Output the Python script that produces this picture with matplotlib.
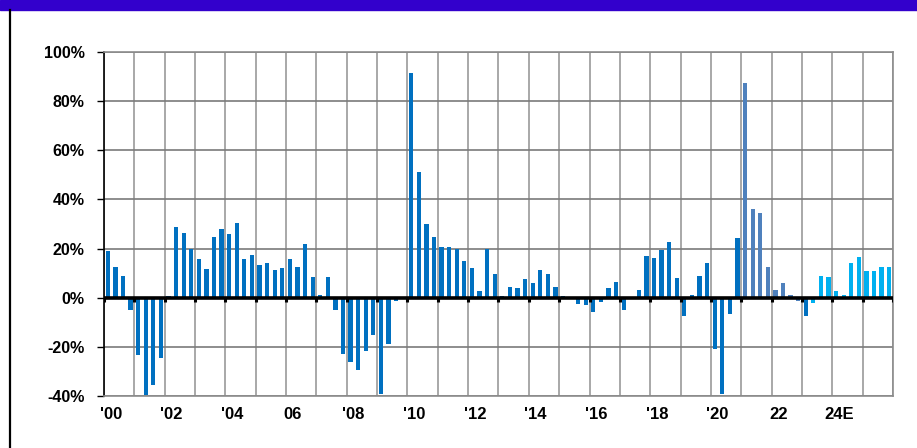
import numpy as np
import matplotlib
matplotlib.use("Agg")
import matplotlib.pyplot as plt
from matplotlib.patches import Rectangle
from matplotlib.lines import Line2D

# quarterly y/y growth, 2000Q1 .. 2025Q4 (%)
growth = [
    19, 12.4, 9, -5,            # 2000
    -23.4, -39.7, -35.6, -24.5, # 2001
    0.8, 28.7, 26.5, 19.7,      # 2002
    15.6, 11.6, 24.6, 27.8,     # 2003
    26.1, 30.3, 15.9, 17.3,     # 2004
    13.2, 14.0, 11.4, 12.1,     # 2005
    15.6, 12.7, 22.0, 8.6,      # 2006
    1.2, 8.6, -4.9, -22.9,      # 2007
    -26.1, -29.4, -21.8, -15.2, # 2008
    -39.3, -19.0, -1.2, 0,      # 2009
    91.4, 51.0, 29.9, 24.6,     # 2010
    20.8, 20.8, 19.7, 14.8,     # 2011
    12.1, 2.6, 19.7, 9.7,       # 2012
    0.8, 4.2, 3.9, 7.8,         # 2013
    6.1, 11.2, 9.7, 4.5,        # 2014
    0.8, -0.3, -2.4, -3.0,      # 2015
    -5.7, -1.9, 3.9, 6.4,       # 2016
    -5.2, 0, 3.3, 17.0,         # 2017
    16.2, 19.6, 22.6, 8.0,      # 2018
    -7.3, 1.0, 9.0, 14.3,       # 2019
    -21.0, -39.0, -6.5, 24.4,   # 2020
    87.5, 36.1, 34.4, 12.4,     # 2021
    3.1, 5.9, 1.0, -1.2,        # 2022
    -7.3, -2.2, 8.7, 8.3,       # 2023
    2.6, 1.0, 14.0, 16.5,       # 2024E
    10.7, 10.7, 12.4, 12.4,     # 2025E
]
# colour group per quarter: 0 = history, 1 = 2021-22 block, 2 = estimates
group = [0] * 84 + [1] * 8 + [0] + [2] * 11
group_colors = ["#0070C0", "#4F81BD", "#00B0F0"]

year_labels = ["'00", "'02", "'04", "06", "'08", "'10", "'12", "'14",
               "'16", "'18", "'20", "22", "24E"]
y_ticks = [-40, -20, 0, 20, 40, 60, 80, 100]

first_year = 2000
n_years = len(growth) // 4
xq = first_year + (np.arange(len(growth)) + 0.5) / 4.0
cols = [group_colors[g] for g in group]

fig = plt.figure(figsize=(9.17, 4.48), dpi=100)
ax = fig.add_axes([104 / 917, 52 / 448, 789 / 917, 344 / 448])

# header band and left rule
fig.patches.append(Rectangle((0, 438 / 448), 1, 10 / 448, transform=fig.transFigure,
                             color="#3300CC", zorder=0))
fig.lines.append(Line2D([10 / 917, 10 / 917], [0, 438 / 448], transform=fig.transFigure,
                        color="black", lw=1.6))

ax.bar(xq, growth, width=0.14, color=cols, edgecolor="none", zorder=3)

ax.set_xlim(first_year, first_year + n_years)
ax.set_ylim(-40, 100)

# grid
for yr in range(first_year, first_year + n_years + 1):
    ax.axvline(yr, color="#9a9a9a", lw=1.2, zorder=1)
for t in y_ticks:
    ax.axhline(t, color="#7a7a7a", lw=1.2, zorder=1)

# zero line with year ticks
ax.axhline(0, color="black", lw=2.6, zorder=4)
ax.vlines(np.arange(first_year, first_year + n_years + 1), -1.6, 0,
          color="black", lw=2.2, zorder=4)

for s in ["top", "right", "bottom"]:
    ax.spines[s].set_color("#8c8c8c")
    ax.spines[s].set_linewidth(1.2)
ax.spines["left"].set_color("black")
ax.spines["left"].set_linewidth(1.2)

ax.set_yticks(y_ticks)
ax.set_yticklabels([f"{t}%" for t in y_ticks], fontsize=11.5, fontweight="bold",
                   family=["Liberation Sans", "DejaVu Sans"])
ax.tick_params(axis="y", direction="out", length=5, width=1, color="black", pad=9)

ax.set_xticks(np.arange(first_year, first_year + n_years, 2) + 0.22)
ax.set_xticklabels(year_labels, fontsize=12, fontweight="bold",
                   family=["Liberation Sans Narrow", "Liberation Sans", "DejaVu Sans"])
ax.tick_params(axis="x", length=0, pad=8)

fig.savefig("out.png", dpi=100)
